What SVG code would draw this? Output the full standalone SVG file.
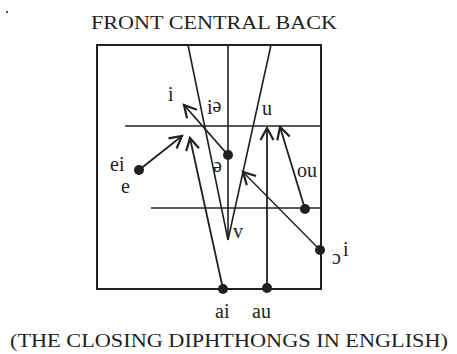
<svg xmlns="http://www.w3.org/2000/svg" width="457" height="354" viewBox="0 0 457 354">
<style>
text{font-family:"Liberation Serif","Times New Roman",serif;fill:#231f20}
.lbl{font-size:20px}
.ln{stroke:#231f20;stroke-width:1.6;fill:none}
.ar{stroke:#231f20;stroke-width:1.8;fill:none;marker-end:url(#ah)}
.dot{fill:#231f20}
</style>
<defs>
<marker id="ah" markerUnits="userSpaceOnUse" markerWidth="16" markerHeight="16" refX="13" refY="7" orient="auto" overflow="visible">
<path d="M1,0.5 L13,7 L1,13.5" fill="none" stroke="#231f20" stroke-width="2.2"/>
</marker>
</defs>
<rect width="457" height="354" fill="#fff"/>
<rect x="6" y="11" width="2" height="2" fill="#555"/>
<text x="91" y="29" font-size="19" textLength="246" lengthAdjust="spacingAndGlyphs">FRONT CENTRAL BACK</text>
<g id="chart">
<rect x="97" y="45" width="224" height="244" fill="none" stroke="#231f20" stroke-width="2"/>
<line class="ln" x1="125" y1="126" x2="322" y2="126"/>
<line class="ln" x1="151" y1="208" x2="321" y2="208"/>
<line class="ln" x1="188" y1="45" x2="228" y2="240"/>
<line class="ln" x1="228" y1="45" x2="228" y2="240"/>
<line class="ln" x1="271" y1="45" x2="228" y2="240"/>
</g>
<g id="connectors">
<line class="ar" x1="139" y1="170" x2="182" y2="136"/>
<line class="ar" x1="223" y1="289" x2="190" y2="138"/>
<line class="ar" x1="228" y1="155" x2="184" y2="105"/>
<line class="ar" x1="267" y1="288" x2="267" y2="128"/>
<line class="ar" x1="305" y1="209" x2="280" y2="127"/>
<line class="ar" x1="320" y1="250" x2="243" y2="172" style="stroke-width:1.4"/>
</g>
<g id="node-i"><text class="lbl" x="168" y="101">i</text></g>
<g id="node-ie"><text class="lbl" x="207" y="114">i<tspan dy="-2">ə</tspan></text></g>
<g id="node-u"><text class="lbl" x="262" y="115">u</text></g>
<g id="node-ei"><circle class="dot" cx="139" cy="170" r="5"/><text class="lbl" x="110" y="171">ei</text><text class="lbl" x="121" y="193">e</text></g>
<g id="node-schwa"><circle class="dot" cx="228" cy="155" r="5"/><text class="lbl" x="213" y="172">ə</text></g>
<g id="node-ou"><circle class="dot" cx="305" cy="209" r="5"/><text class="lbl" x="297" y="177">ou</text></g>
<g id="node-v"><text class="lbl" x="233" y="238">v</text></g>
<g id="node-oi"><circle class="dot" cx="320" cy="250" r="5"/><text class="lbl" x="332" y="264">ɔ</text><text class="lbl" x="343" y="256" font-size="18">i</text></g>
<g id="node-ai"><circle class="dot" cx="223" cy="289" r="5"/><text class="lbl" x="215" y="318">ai</text></g>
<g id="node-au"><circle class="dot" cx="267" cy="288" r="5"/><text class="lbl" x="252" y="318">au</text></g>
<text x="10" y="347" font-size="18" textLength="438" lengthAdjust="spacingAndGlyphs">(THE CLOSING DIPHTHONGS IN ENGLISH)</text>
</svg>
